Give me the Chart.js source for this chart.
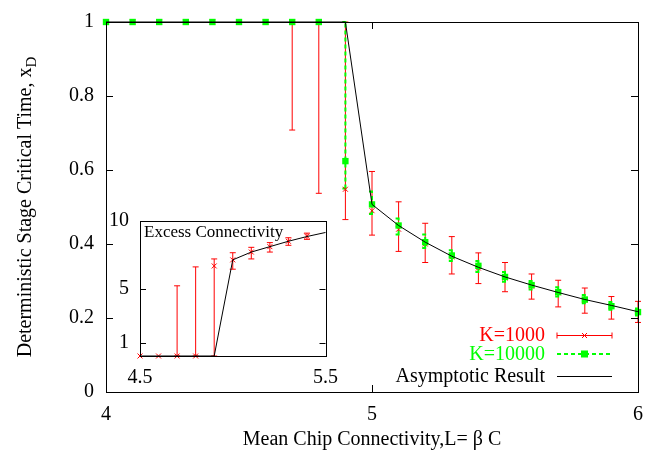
<!DOCTYPE html>
<html>
<head>
<meta charset="utf-8">
<script src="https://cdn.jsdelivr.net/npm/chart.js@4.4.0/dist/chart.umd.min.js"></script>
<style>
  body { margin: 0; background: #fff; }
  #wrap { position: relative; width: 659px; height: 460px; }
  #main { position: absolute; left: 0; top: 0; }
  #inset { position: absolute; left: 95px; top: 200px; }
</style>
</head>
<body>
<div id="wrap">
  <canvas id="main" width="659" height="460"></canvas>
  <canvas id="inset" width="255" height="200"></canvas>
</div>
<script>
// main plot data
const connectivity = [4.0, 4.1, 4.2, 4.3, 4.4, 4.5, 4.6, 4.7, 4.8, 4.9, 5.0, 5.1, 5.2, 5.3, 5.4, 5.5, 5.6, 5.7, 5.8, 5.9, 6.0];
const asymptotic = [1, 1, 1, 1, 1, 1, 1, 1, 1, 1, 0.507, 0.450, 0.405, 0.367, 0.337, 0.311, 0.289, 0.269, 0.250, 0.234, 0.217];
const k1000 = [1, 1, 1, 1, 1, 1, 1, 1, 1, 0.548, 0.490, 0.440, 0.400, 0.365, 0.335, 0.308, 0.286, 0.268, 0.248, 0.231, 0.216];
const k1000Low = [1, 1, 1, 1, 1, 1, 1, 0.708, 0.537, 0.466, 0.424, 0.380, 0.350, 0.319, 0.293, 0.271, 0.251, 0.230, 0.213, 0.197, 0.188];
const k1000High = [1, 1, 1, 1, 1, 1, 1, 1, 1, 1, 0.596, 0.514, 0.456, 0.420, 0.376, 0.350, 0.319, 0.302, 0.281, 0.258, 0.245];
const k10000 = [1, 1, 1, 1, 1, 1, 1, 1, 1, 0.624, 0.507, 0.450, 0.405, 0.369, 0.341, 0.311, 0.289, 0.270, 0.250, 0.232, 0.216];
const k10000Low = [1, 1, 1, 1, 1, 1, 1, 1, 1, 0.550, 0.481, 0.426, 0.389, 0.354, 0.324, 0.298, 0.277, 0.258, 0.240, 0.222, 0.207];
const k10000High = [1, 1, 1, 1, 1, 1, 1, 1, 1, 1, 0.542, 0.469, 0.426, 0.383, 0.354, 0.324, 0.300, 0.283, 0.262, 0.243, 0.226];
const mainXTicks = [4, 5, 6];
const mainYTicks = [0, 0.2, 0.4, 0.6, 0.8, 1];

// inset data
const insetX = [4.5, 4.6, 4.7, 4.8, 4.9, 5.0, 5.1, 5.2, 5.3, 5.4];
const insetExcess = [0, 0, 0, 0, 6.67, 7.12, 7.7, 8.1, 8.5, 8.87];
const insetLow = [0, 0, 0, 0, 0, 6.43, 7.19, 7.7, 8.2, 8.64];
const insetHigh = [0, 0, 5.2, 6.6, 7.19, 7.65, 8.05, 8.4, 8.76, 9.1];
const insetAsymX = [4.5, 4.6, 4.7, 4.8, 4.9, 5.0, 5.1, 5.2, 5.3, 5.4, 5.5];
const insetAsym = [0, 0, 0, 0, 0, 7.12, 7.7, 8.1, 8.5, 8.85, 9.15];
const insetXTicks = [4.5, 5.5];
const insetYTicks = [1, 5, 10];

const RED = '#ff0000';
const GREEN = '#00ff00';
const FONT = "'Liberation Serif', 'Times New Roman', serif";

Chart.defaults.font.family = FONT;
Chart.defaults.font.size = 20;
Chart.defaults.color = '#000';

function pts(xs, ys) {
  return xs.map((x, i) => ({ x: x, y: ys[i] }));
}

// plain number labels like gnuplot: 0, 0.2, ... 1
const plainLabel = v => String(+(+v).toFixed(2));

// vertical error bars, drawn under the markers
const errorBars = {
  id: 'errorBars',
  beforeDatasetsDraw(chart) {
    const ctx = chart.ctx;
    const xs = chart.scales.x, ys = chart.scales.y;
    const sets = chart.data.datasets;
    for (let d = sets.length - 1; d >= 0; d--) {
      const ds = sets[d];
      if (!ds.errLow) continue;
      ctx.save();
      ctx.strokeStyle = ds.errColor;
      ctx.lineWidth = ds.errWidth;
      ctx.setLineDash(ds.errDash || []);
      ds.data.forEach((p, i) => {
        const lo = ds.errLow[i], hi = ds.errHigh[i];
        if (hi - lo < 1e-9) return;
        const px = xs.getPixelForValue(p.x);
        const y1 = ys.getPixelForValue(lo), y2 = ys.getPixelForValue(hi);
        const c = ds.errCap;
        ctx.beginPath();
        ctx.moveTo(px, y1); ctx.lineTo(px, y2);
        ctx.moveTo(px - c, y1); ctx.lineTo(px + c, y1);
        ctx.moveTo(px - c, y2); ctx.lineTo(px + c, y2);
        ctx.stroke();
      });
      ctx.restore();
    }
  }
};

// gnuplot style box with inward ticks
const frame = {
  id: 'frame',
  beforeDraw(chart, args, opts) {
    if (!opts.fill) return;
    const a = chart.chartArea;
    chart.ctx.save();
    chart.ctx.fillStyle = opts.fill;
    chart.ctx.fillRect(a.left, a.top, a.right - a.left, a.bottom - a.top);
    chart.ctx.restore();
  },
  afterDatasetsDraw(chart, args, opts) {
    const ctx = chart.ctx, a = chart.chartArea;
    const xs = chart.scales.x, ys = chart.scales.y;
    const len = opts.tick || 7;
    ctx.save();
    ctx.strokeStyle = '#000';
    ctx.lineWidth = 1;
    ctx.beginPath();
    ys.ticks.forEach(t => {
      const p = Math.round(ys.getPixelForValue(t.value)) + 0.5;
      ctx.moveTo(a.left, p); ctx.lineTo(a.left + len, p);
      ctx.moveTo(a.right, p); ctx.lineTo(a.right - len, p);
    });
    xs.ticks.forEach(t => {
      const p = Math.round(xs.getPixelForValue(t.value)) + 0.5;
      ctx.moveTo(p, a.bottom); ctx.lineTo(p, a.bottom - len);
      ctx.moveTo(p, a.top); ctx.lineTo(p, a.top + len);
    });
    ctx.stroke();
    ctx.strokeRect(Math.round(a.left) + 0.5, Math.round(a.top) + 0.5,
      Math.round(a.right - a.left), Math.round(a.bottom - a.top));
    ctx.restore();
  }
};

// y title with subscript, and the key box
const mainDecor = {
  id: 'mainDecor',
  afterDraw(chart) {
    const ctx = chart.ctx, a = chart.chartArea;
    ctx.save();
    // y axis title
    const t1 = 'Deterministic Stage Critical Time, x', t2 = 'D';
    ctx.font = '20px ' + FONT;
    const w1 = ctx.measureText(t1).width;
    ctx.font = '15px ' + FONT;
    const w2 = ctx.measureText(t2).width;
    ctx.translate(24, (a.top + a.bottom) / 2);
    ctx.rotate(-Math.PI / 2);
    ctx.fillStyle = '#000';
    ctx.textBaseline = 'alphabetic';
    ctx.textAlign = 'left';
    ctx.font = '20px ' + FONT;
    ctx.fillText(t1, -(w1 + w2) / 2, 7);
    ctx.font = '15px ' + FONT;
    ctx.fillText(t2, -(w1 + w2) / 2 + w1, 12);
    ctx.restore();

    // key
    ctx.save();
    const tx = a.right - 93, x1 = a.right - 81, x2 = a.right - 26, xm = (x1 + x2) / 2;
    const rows = [a.bottom - 57, a.bottom - 38, a.bottom - 16];
    ctx.font = '20px ' + FONT;
    ctx.textAlign = 'right';
    ctx.textBaseline = 'middle';

    ctx.fillStyle = RED; ctx.strokeStyle = RED; ctx.lineWidth = 1;
    ctx.fillText('K=1000', tx, rows[0] + 1);
    let y = rows[0] + 0.5;
    ctx.beginPath();
    ctx.moveTo(x1, y); ctx.lineTo(x2, y);
    ctx.moveTo(x1, y - 3); ctx.lineTo(x1, y + 3);
    ctx.moveTo(x2, y - 3); ctx.lineTo(x2, y + 3);
    ctx.moveTo(xm - 2.5, y - 2.5); ctx.lineTo(xm + 2.5, y + 2.5);
    ctx.moveTo(xm - 2.5, y + 2.5); ctx.lineTo(xm + 2.5, y - 2.5);
    ctx.stroke();

    ctx.fillStyle = GREEN; ctx.strokeStyle = GREEN; ctx.lineWidth = 2;
    ctx.fillText('K=10000', tx, rows[1] + 1);
    y = rows[1];
    ctx.setLineDash([4, 3]);
    ctx.beginPath(); ctx.moveTo(x1, y); ctx.lineTo(x2, y); ctx.stroke();
    ctx.setLineDash([]);
    ctx.fillRect(xm - 3.5, y - 3.5, 7, 7);

    ctx.fillStyle = '#000'; ctx.strokeStyle = '#000'; ctx.lineWidth = 1;
    ctx.fillText('Asymptotic Result', tx, rows[2] + 1);
    y = rows[2] + 0.5;
    ctx.beginPath(); ctx.moveTo(x1, y); ctx.lineTo(x2, y); ctx.stroke();
    ctx.restore();
  }
};

const insetDecor = {
  id: 'insetDecor',
  afterDatasetsDraw(chart) {
    const ctx = chart.ctx, a = chart.chartArea;
    ctx.save();
    ctx.font = '17px ' + FONT;
    ctx.fillStyle = '#000';
    ctx.textAlign = 'left';
    ctx.textBaseline = 'middle';
    ctx.fillText('Excess Connectivity', a.left + 4, a.top + 12);
    ctx.restore();
  }
};

const mainChart = new Chart(document.getElementById('main'), {
  type: 'scatter',
  data: {
    datasets: [
      {
        label: 'Asymptotic Result',
        data: pts(connectivity, asymptotic),
        showLine: true,
        borderColor: '#000',
        borderWidth: 1,
        pointRadius: 0,
        clip: false
      },
      {
        label: 'K=10000',
        data: pts(connectivity, k10000),
        pointStyle: 'rect',
        pointRadius: 4.5,
        backgroundColor: GREEN,
        borderColor: GREEN,
        borderWidth: 0,
        errLow: k10000Low,
        errHigh: k10000High,
        errColor: GREEN,
        errWidth: 2,
        errDash: [4, 3],
        errCap: 3,
        clip: false
      },
      {
        label: 'K=1000',
        data: pts(connectivity, k1000),
        pointStyle: 'crossRot',
        pointRadius: 3.5,
        borderColor: RED,
        borderWidth: 1,
        errLow: k1000Low,
        errHigh: k1000High,
        errColor: RED,
        errWidth: 1,
        errCap: 3,
        clip: false
      }
    ]
  },
  options: {
    responsive: false,
    animation: false,
    layout: { padding: { top: 10, right: 21, left: 0, bottom: 0 } },
    plugins: {
      legend: { display: false },
      tooltip: { enabled: false },
      frame: { tick: 7 }
    },
    scales: {
      x: {
        type: 'linear',
        min: 4,
        max: 6,
        afterBuildTicks: s => { s.ticks = mainXTicks.map(v => ({ value: v })); },
        afterFit: s => { s.height = 68; },
        grid: { display: false, drawTicks: false },
        border: { display: false },
        ticks: { padding: 13, font: { size: 20, lineHeight: 1 }, maxRotation: 0, callback: plainLabel },
        title: {
          display: true,
          text: 'Mean Chip Connectivity,L= β C',
          font: { size: 20, lineHeight: 1 },
          padding: { top: 0, bottom: 10 }
        }
      },
      y: {
        type: 'linear',
        min: 0,
        max: 1,
        afterBuildTicks: s => { s.ticks = mainYTicks.map(v => ({ value: v })); },
        afterFit: s => { s.width = 106; },
        grid: { display: false, drawTicks: false },
        border: { display: false },
        ticks: { padding: 12, font: { size: 20, lineHeight: 1 }, callback: plainLabel }
      }
    }
  },
  plugins: [errorBars, frame, mainDecor]
});

const insetChart = new Chart(document.getElementById('inset'), {
  type: 'scatter',
  data: {
    datasets: [
      {
        label: 'Asymptotic',
        data: pts(insetAsymX, insetAsym),
        showLine: true,
        borderColor: '#000',
        borderWidth: 1,
        pointRadius: 0,
        clip: false
      },
      {
        label: 'K=1000',
        data: pts(insetX, insetExcess),
        pointStyle: 'crossRot',
        pointRadius: 3.5,
        borderColor: RED,
        borderWidth: 1,
        errLow: insetLow,
        errHigh: insetHigh,
        errColor: RED,
        errWidth: 1,
        errCap: 3,
        clip: false
      }
    ]
  },
  options: {
    responsive: false,
    animation: false,
    layout: { padding: { top: 11, right: 15, left: 0, bottom: 0 } },
    plugins: {
      legend: { display: false },
      tooltip: { enabled: false },
      frame: { tick: 6, fill: '#fff' }
    },
    scales: {
      x: {
        type: 'linear',
        min: 4.5,
        max: 5.5,
        afterBuildTicks: s => { s.ticks = insetXTicks.map(v => ({ value: v })); },
        afterFit: s => { s.height = 44; },
        grid: { display: false, drawTicks: false },
        border: { display: false },
        ticks: { padding: 12, font: { size: 20, lineHeight: 1 }, maxRotation: 0, callback: plainLabel }
      },
      y: {
        type: 'linear',
        min: 0,
        max: 10,
        afterBuildTicks: s => { s.ticks = insetYTicks.map(v => ({ value: v })); },
        afterFit: s => { s.width = 45; },
        grid: { display: false, drawTicks: false },
        border: { display: false },
        ticks: { padding: 11, font: { size: 20, lineHeight: 1 }, callback: plainLabel }
      }
    }
  },
  plugins: [errorBars, frame, insetDecor]
});
</script>
</body>
</html>
